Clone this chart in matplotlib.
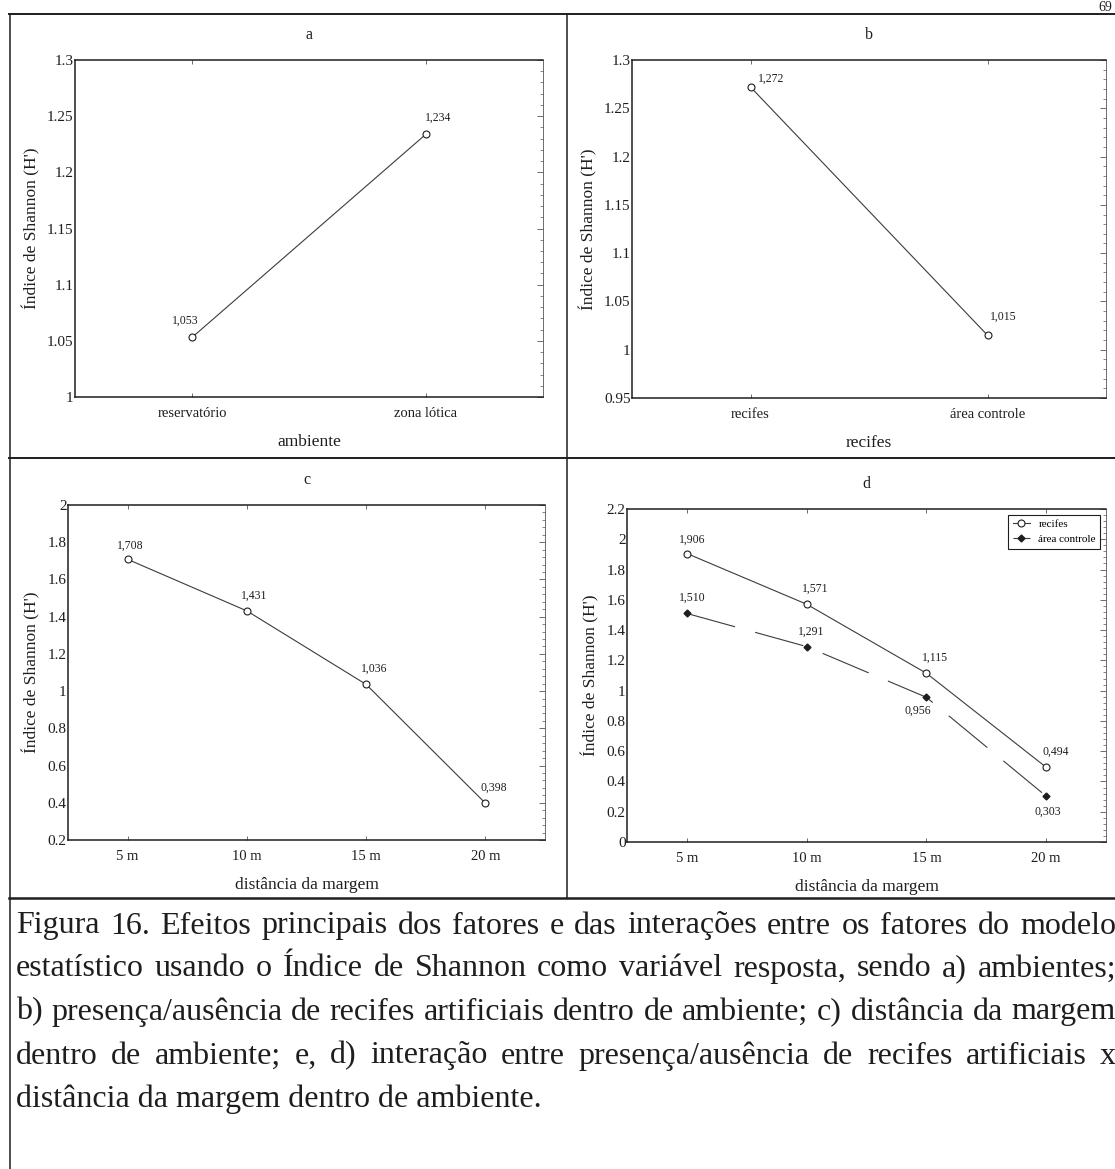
import matplotlib
matplotlib.use('Agg')
import matplotlib.pyplot as plt
from matplotlib.lines import Line2D
from matplotlib.ticker import MultipleLocator, AutoMinorLocator, FuncFormatter

# data
amb_cats = ['reservatório', 'zona lótica']
amb_vals = [1.053, 1.234]

rec_cats = ['recifes', 'área controle']
rec_vals = [1.272, 1.015]

dist_cats = ['5 m', '10 m', '15 m', '20 m']
dist_vals = [1.708, 1.431, 1.036, 0.398]

d_recifes = [1.906, 1.571, 1.115, 0.494]
d_controle = [1.510, 1.291, 0.956, 0.303]

caption = [
    'Figura 16. Efeitos principais dos fatores e das interações entre os fatores do modelo',
    'estatístico usando o Índice de Shannon como variável resposta, sendo a) ambientes;',
    'b) presença/ausência de recifes artificiais dentro de ambiente; c) distância da margem',
    'dentro de ambiente; e, d) interação entre presença/ausência de recifes artificiais x',
    'distância da margem dentro de ambiente.',
]

W, H = 1115, 1169
plt.rcParams['font.family'] = ['Liberation Serif', 'DejaVu Serif']
plt.rcParams['lines.scale_dashes'] = False
INK = '#1e1e1e'
LINE = '#3c3c3c'

fig = plt.figure(figsize=(W / 100, H / 100), dpi=100)
fig.patch.set_facecolor('white')


def px_rect(l, t, r, b):
    return [l / W, 1 - b / H, (r - l) / W, (b - t) / H]


def fmt_val(v):
    return f'{v:.3f}'.replace('.', ',')


def style_axes(ax, cats, ylim, ystep, title, xlabel):
    ax.set_xlim(-0.5, len(cats) - 0.5)
    ax.set_xticks(range(len(cats)))
    ax.set_xticklabels(cats, fontsize=10.5, color=INK)
    ax.set_ylim(*ylim)
    ax.yaxis.set_major_locator(MultipleLocator(ystep))
    ax.yaxis.set_minor_locator(AutoMinorLocator(5))
    ax.yaxis.set_major_formatter(FuncFormatter(lambda v, p: f'{v:g}'))
    ax.tick_params(axis='y', which='both', left=False, right=True,
                   direction='in', labelsize=11, labelcolor=INK, pad=1,
                   color='#555555')
    ax.tick_params(axis='y', which='major', length=4, width=0.6)
    ax.tick_params(axis='y', which='minor', length=2, width=0.5)
    ax.tick_params(axis='x', top=True, bottom=True, direction='in',
                   length=3, width=0.6, pad=7, color='#555555')
    ax.set_ylabel("Índice de Shannon (H')", fontsize=12.5, labelpad=5, color=INK)
    ax.set_xlabel(xlabel, fontsize=12.5, labelpad=10, color=INK)
    ax.set_title(title, fontsize=11.5, pad=15, color=INK)
    for s in ['left', 'bottom', 'top']:
        ax.spines[s].set_linewidth(1.1)
        ax.spines[s].set_color(INK)
    ax.spines['right'].set_linewidth(0.6)
    ax.spines['right'].set_color('#555555')


def label_points(ax, vals, offsets):
    for i, (v, off) in enumerate(zip(vals, offsets)):
        ax.annotate(fmt_val(v), (i, v), xytext=off, textcoords='offset points',
                    ha='center', va='center', fontsize=8.5, color=INK)


open_style = dict(color=LINE, lw=0.8, marker='o', ms=5, mfc='white',
                  mec=INK, mew=0.8)

# a
ax_a = fig.add_axes(px_rect(75, 60, 543, 397))
ax_a.plot(range(len(amb_vals)), amb_vals, **open_style)
style_axes(ax_a, amb_cats, (1.0, 1.3), 0.05, 'a', 'ambiente')
label_points(ax_a, amb_vals, [(-5, 12), (9, 11.5)])

# b
ax_b = fig.add_axes(px_rect(632, 60, 1106, 398))
ax_b.plot(range(len(rec_vals)), rec_vals, **open_style)
style_axes(ax_b, rec_cats, (0.95, 1.3), 0.05, 'b', 'recifes')
label_points(ax_b, rec_vals, [(15, 6), (11, 13)])

# c
ax_c = fig.add_axes(px_rect(68, 505, 545, 840))
ax_c.plot(range(len(dist_vals)), dist_vals, **open_style)
style_axes(ax_c, dist_cats, (0.2, 2.0), 0.2, 'c', 'distância da margem')
label_points(ax_c, dist_vals, [(2, 10), (5, 11), (6, 11.5), (6, 11)])

# d
ax_d = fig.add_axes(px_rect(627, 509, 1106, 842))
ax_d.plot(range(len(d_recifes)), d_recifes, label='recifes', **open_style)
ax_d.plot(range(len(d_controle)), d_controle, label='área controle',
          color=LINE, lw=0.8, marker='D', ms=3.5, mfc=INK, mec=INK,
          dashes=(36, 15))
style_axes(ax_d, dist_cats, (0.0, 2.2), 0.2, 'd', 'distância da margem')
label_points(ax_d, d_recifes, [(4, 10), (6, 11.5), (6, 11), (7, 11.5)])
label_points(ax_d, d_controle, [(4, 11), (3, 11), (-6, -10), (1, -11)])
leg = ax_d.legend(loc='upper right', fontsize=8, fancybox=False,
                  edgecolor=INK, handlelength=1.5, borderaxespad=0.5,
                  framealpha=1)
leg.get_frame().set_linewidth(0.8)


# table lines of the page
def hline(y, x0, x1, lw):
    fig.add_artist(Line2D([x0 / W, x1 / W], [1 - y / H, 1 - y / H],
                          transform=fig.transFigure, color=INK, lw=lw))


def vline(x, y0, y1, lw):
    fig.add_artist(Line2D([x / W, x / W], [1 - y0 / H, 1 - y1 / H],
                          transform=fig.transFigure, color=INK, lw=lw))


hline(14, 9, W, 1.4)
hline(458, 9, W, 1.4)
hline(898, 9, W, 1.8)
vline(10, 14, H, 1.1)
vline(567, 14, 898, 1.1)

# page number in the top right corner
fig.text(1112 / W, 1 - 1 / H, '69', fontsize=10, ha='right', va='top',
         color=INK)

# caption, justified
renderer = fig.canvas.get_renderer()
x0, x1 = 16, 1116
base = 10
widths = []
for line in caption[:-1]:
    t = fig.text(0, 0, line, fontsize=base)
    widths.append(t.get_window_extent(renderer).width)
    t.remove()
cap_size = base * (x1 - x0) / max(widths) * 0.995
line_y = [926, 969, 1012, 1056, 1099]
for i, line in enumerate(caption):
    y = 1 - line_y[i] / H
    if i == len(caption) - 1:
        fig.text(x0 / W, y, line, fontsize=cap_size, va='center', color=INK)
        continue
    words = line.split()
    texts = [fig.text(0, y, w, fontsize=cap_size, va='center', color=INK)
             for w in words]
    ws = [t.get_window_extent(renderer).width for t in texts]
    gap = (x1 - x0 - sum(ws)) / (len(words) - 1)
    x = x0
    for t, w in zip(texts, ws):
        t.set_x(x / W)
        x += w + gap

fig.savefig('out.png', dpi=100, facecolor='white')
